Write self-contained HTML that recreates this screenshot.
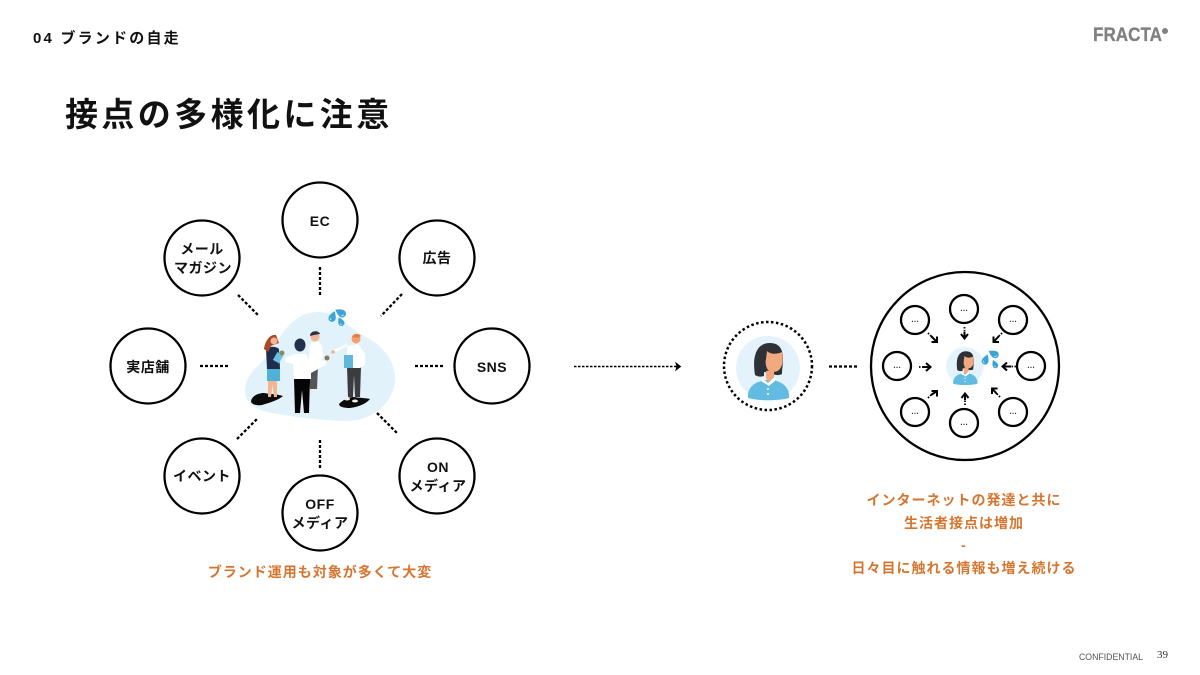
<!DOCTYPE html>
<html lang="ja"><head><meta charset="utf-8"><style>
html,body{margin:0;padding:0;background:#fff}
svg{display:block}
text{font-family:"Liberation Sans","Noto Sans CJK JP",sans-serif}
.n{font-size:14px;font-weight:700;letter-spacing:.5px;text-anchor:middle;fill:#111}
.o{font-size:14px;font-weight:700;letter-spacing:1px;text-anchor:middle;fill:#d6752f}
.c{fill:#fff;stroke:#000;stroke-width:2.3}
.d{stroke:#000;stroke-width:2.3;stroke-dasharray:3 2;fill:none}
.s{font-size:8px;font-weight:700;text-anchor:middle;fill:#333}
.t{stroke:#000;stroke-width:1.8;stroke-dasharray:1.5 1.5;fill:none}
.a{stroke:#000;stroke-width:2;fill:none}
</style></head><body>
<svg width="1200" height="675" viewBox="0 0 1200 675" xmlns="http://www.w3.org/2000/svg">
<defs>
<g id="drop"><path d="M0-7C2.500-3.500 4-1 4 1.500A4 4 0 0 1-4 1.500C-4-1-2.500-3.500 0-7Z" fill="#3aa5d6"/><path d="M-2 1.500A2 2 0 0 0 0 3.500" stroke="#bfe4f5" stroke-width="1" fill="none"/></g>
<g id="av">
<circle cx="0" cy="0" r="32" fill="#e4f3fb"/>
<path d="M-20 30C-21 19-13 14-3 12H5C14 14 22 19 21 30C10 33-10 33-20 30Z" fill="#62bbe0"/>
<path d="M-13 7C-15-5-15-25 2-25C12-25 15-18 15-9C15-3 14 1 14 6C10 8 6 7 3 5L-4 4V8C-7 9-10 9-13 7Z" fill="#2e3136"/>
<path d="M-2 3V10L0 14L6 10V2Z" fill="#f3a97f"/>
<path d="M-6 10L0 15L7 9L8 12L1 18L-7 13Z" fill="#fff"/>
<path d="M-1-17C3-13 10-14 14-16C15.500-8 15-2 11 2C7 5 3 4 0 2C-2-1-3-5-2-9Z" fill="#f3a97f"/>
<circle cx="0" cy="21" r="1" fill="#fff"/><circle cx="0" cy="26" r="1" fill="#fff"/>
</g>
</defs>

<text x="33" y="43" font-size="15" font-weight="700" letter-spacing="2.200" fill="#111">04 ブランドの自走</text>
<text x="65" y="126" font-size="33" font-weight="700" letter-spacing="3.400" fill="#111">接点の多様化に注意</text>

<text x="1093" y="41" font-size="19.5" font-weight="700" fill="#808080" stroke="#808080" stroke-width=".3" textLength="69" lengthAdjust="spacingAndGlyphs">FRACTA</text>
<circle cx="1165" cy="31" r="3" fill="#808080"/>
<text x="1079" y="660" font-size="9" fill="#555" textLength="64" lengthAdjust="spacingAndGlyphs">CONFIDENTIAL</text>
<text x="1157" y="658" font-size="11" fill="#333" style="font-family:'Liberation Serif',serif">39</text>

<!-- spokes -->
<path class="d" d="M320 267V296M402 294L381 316M415 366H444M377 413L398 434M320 440V469M237 439L257 419M200 366H229M238 295L259 316"/>

<!-- nodes -->
<circle class="c" cx="320" cy="220" r="37.5"/>
<circle class="c" cx="437" cy="258" r="37.5"/>
<circle class="c" cx="492" cy="366" r="37.5"/>
<circle class="c" cx="437" cy="476" r="37.5"/>
<circle class="c" cx="320" cy="513" r="37.5"/>
<circle class="c" cx="202" cy="476" r="37.5"/>
<circle class="c" cx="148" cy="366" r="37.5"/>
<circle class="c" cx="202" cy="258" r="37.5"/>
<text class="n" x="320" y="226">EC</text>
<text class="n" x="437" y="263">広告</text>
<text class="n" x="492" y="372">SNS</text>
<text class="n" x="438" y="472">ON</text>
<text class="n" x="438" y="491">メディア</text>
<text class="n" x="320" y="509">OFF</text>
<text class="n" x="320" y="528">メディア</text>
<text class="n" x="202" y="481">イベント</text>
<text class="n" x="148" y="372">実店舗</text>
<text class="n" x="202" y="254">メール</text>
<text class="n" x="203" y="273">マガジン</text>

<!-- illustration -->
<path d="M245 388C247 372 262 364 272 350C283 330 296 312 318 312C338 312 349 328 364 336C384 346 396 362 395 381C393 403 372 422 344 421C320 420 300 418 278 414C258 411 244 405 245 388Z" fill="#e2f2fb"/>
<path d="M251 401C252 396 258 393 264 393C270 394 277 394 283 396C277 401 268 403 262 405C256 406 251 404 251 401Z" fill="#0b0b0b"/>
<path d="M339 404C343 400 348 397 354 397C360 398 366 398 370 399C366 404 358 407 350 408C344 408 339 407 339 404Z" fill="#0b0b0b"/>
<!-- back man -->
<path d="M308 364H318L317 390H310Z" fill="#55565a"/>
<path d="M310 344L318 341L322 346L323 358L318 366H308Z" fill="#fff"/>
<circle cx="315" cy="337" r="4.500" fill="#f3b592"/><path d="M310 336C310 330 319 330 320 334L314 335Z" fill="#2a3144"/>
<rect x="310" y="389" width="7" height="3" fill="#eee"/>
<!-- woman -->
<path d="M268 381H277V397H274L272.500 385L271 397H268Z" fill="#f3b592"/>
<path d="M267 368H280L280 381H267Z" fill="#4fb0d8"/>
<path d="M266 349C270 346 276 346 279 349L280 369H267Z" fill="#1f2e4f"/>
<rect x="275" y="353" width="7" height="9" fill="#6cc0e2" transform="rotate(30 278 357)"/>
<path d="M264 349C265 341 270 334 276 335L279 343L271 346L268 352Z" fill="#a9492c"/>
<circle cx="274" cy="341" r="3.500" fill="#f3b592"/>
<circle cx="282" cy="353" r="2.500" fill="#8a8a62"/>
<!-- center man -->
<path d="M294 378H310L309 413H304L302 390L300 413H295Z" fill="#050505"/>
<path d="M285 358L295 354L306 354L311 366L325 360L327 364L311 373V379H294L293 364L286 362Z" fill="#fff"/>
<ellipse cx="300" cy="345" rx="5.500" ry="6.500" fill="#23304a"/>
<circle cx="327" cy="358" r="2.500" fill="#8a7a50"/>
<!-- right man -->
<path d="M347 367H361L360 397H355L354 375L353 397H348Z" fill="#3b3b40"/>
<path d="M347 346L358 344L365 354L365 365L360 368H347Z" fill="#fff"/>
<path d="M347 346L336 352L334 350L347 344Z" fill="#fff"/>
<circle cx="333" cy="352" r="1.800" fill="#f3b592"/>
<rect x="344" y="355" width="9" height="13" fill="#5fb7dc"/>
<circle cx="356" cy="339" r="4.500" fill="#f3a06f"/>
<path d="M352 337C353 333 359 333 361 336L358 338Z" fill="#e57f45"/>
<ellipse cx="347" cy="399" rx="3" ry="1.500" fill="#eee"/><ellipse cx="355" cy="401" rx="3" ry="1.500" fill="#eee"/>
<use href="#drop" transform="translate(332.500 317) rotate(20) scale(.9)"/>
<use href="#drop" transform="translate(341 313) rotate(-60) scale(.95)"/>
<use href="#drop" transform="translate(341 322) rotate(-25) scale(.75)"/>

<!-- long arrow -->
<path d="M574 366.500H677" stroke="#000" stroke-width="1.600" stroke-dasharray="2.500 1.500" fill="none"/>
<path d="M676 363L680.500 366.500L676 370L677 366.500Z" fill="#000" stroke="#000"/>

<!-- dotted avatar -->
<circle cx="768" cy="366" r="44" fill="#fff" stroke="#000" stroke-width="2.500" stroke-dasharray="2.500 2.500"/>
<use href="#av" x="768" y="368"/>
<path class="d" d="M829 366.500H857"/>

<!-- big circle -->
<circle class="c" cx="965" cy="366" r="94"/>
<circle class="c" cx="964" cy="309" r="14"/><circle class="c" cx="915" cy="320" r="14"/>
<circle class="c" cx="1013" cy="320" r="14"/><circle class="c" cx="897" cy="366" r="14"/>
<circle class="c" cx="1031" cy="366" r="14"/><circle class="c" cx="915" cy="412" r="14"/>
<circle class="c" cx="964" cy="423" r="14"/><circle class="c" cx="1013" cy="412" r="14"/>
<text class="s" x="964" y="311">…</text><text class="s" x="915" y="322">…</text>
<text class="s" x="1013" y="322">…</text><text class="s" x="897" y="368">…</text>
<text class="s" x="1031" y="368">…</text><text class="s" x="915" y="414">…</text>
<text class="s" x="964" y="425">…</text><text class="s" x="1013" y="414">…</text>
<g transform="translate(965 366) scale(.59)"><use href="#av"/></g>
<use href="#drop" transform="translate(985.500 360) rotate(20) scale(.85)"/>
<use href="#drop" transform="translate(994 354) rotate(-60) scale(.9)"/>
<use href="#drop" transform="translate(995 364.500) rotate(-25) scale(.7)"/>

<!-- small arrows -->
<path class="t" d="M964.500 327V332"/><path class="a" d="M964.500 332V338M961 334L964.500 338.500L968 334"/>
<path class="t" d="M965 405V400"/><path class="a" d="M965 400V394M961.500 398L965 393.500L968.500 398"/>
<path class="t" d="M919 367H923"/><path class="a" d="M923 367H930M926 363L930.500 367L926 371"/>
<path class="t" d="M1016 366.500H1011"/><path class="a" d="M1011 366.500H1003M1007 362.500L1002.500 366.500L1007 370.500"/>
<path class="t" d="M928 333L931 336"/><path class="a" d="M931 336L937 342M937 336.500V342H931.500"/>
<path class="t" d="M1002 333L999 336"/><path class="a" d="M999 336L993.500 342M993.500 336.500V342H999"/>
<path class="t" d="M928 398L931 395"/><path class="a" d="M931 395L937 391M931.500 391H937V396.500"/>
<path class="t" d="M1000 397L997 394"/><path class="a" d="M997 394L992 388.500M997.500 388.500H992V394"/>

<!-- captions -->
<text class="o" x="320" y="577">ブランド運用も対象が多くて大変</text>
<text class="o" x="964" y="505">インターネットの発達と共に</text>
<text class="o" x="964" y="528">生活者接点は増加</text>
<text class="o" x="964" y="550">-</text>
<text class="o" x="964" y="573">日々目に触れる情報も増え続ける</text>
</svg>
</body></html>
